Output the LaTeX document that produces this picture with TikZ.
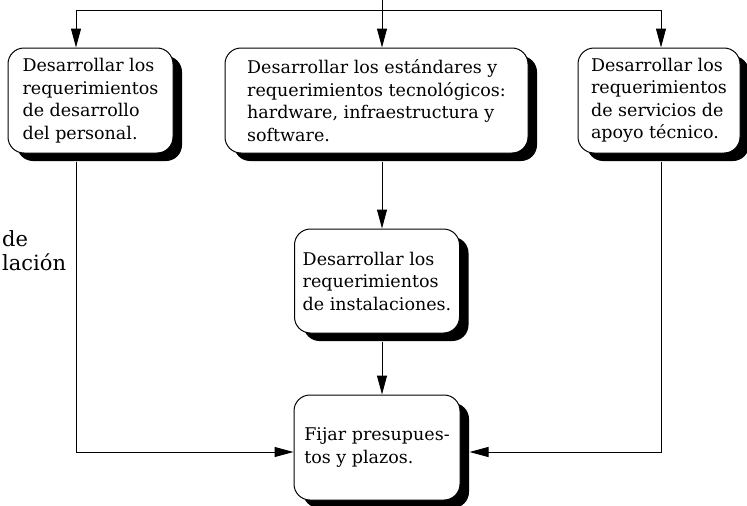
\documentclass[tikz,border=0pt]{standalone}
\usepackage{fontspec}
\setmainfont{DejaVu Serif}
\usetikzlibrary{arrows.meta, shadows}

\tikzset{
  paso/.style={draw, line width=1pt, fill=white, rounded corners=16pt,
    align=left, inner sep=0pt, minimum height=105pt,
    font=\fontsize{17.5}{22.5}\selectfont,
    drop shadow={shadow xshift=9pt, shadow yshift=-8pt, fill=black, opacity=1}},
  corte/.style={inner sep=0pt, anchor=base west, font=\fontsize{21}{24}\selectfont},
  flecha/.style={line width=1pt, -{Triangle[length=19pt,width=10pt]}},
  linea/.style={line width=1pt}
}

\begin{document}
\begin{tikzpicture}[x=1pt, y=-1pt]
\useasboundingbox (0,0) rectangle (747,506);

% Text at the left edge
\node[corte] (txtde) at (2,246) {de};
\node[corte] (txtlacion) at (2,270) {lación};

% Steps
\node[paso, minimum width=165pt] (personal) at (90.5,100.5)
  {Desarrollar los\\requerimientos\\de desarrollo\\del personal.};
\node[paso, minimum width=303pt] (estandares) at (376.5,100.5)
  {Desarrollar los estándares y\\requerimientos tecnológicos:\\hardware, infraestructura y\\software.};
\node[paso, minimum width=162pt] (servicios) at (659,100.5)
  {Desarrollar los\\requerimientos\\de servicios de\\apoyo técnico.};
\node[paso, minimum width=165pt, minimum height=104pt] (instalaciones) at (377,281)
  {Desarrollar los\\requerimientos\\de instalaciones.};
\node[paso, minimum width=166pt] (presupuestos) at (377,447.5)
  {Fijar presupues-\\tos y plazos.};

% Bend points
\coordinate (arriba) at (382,0);
\coordinate (barraI) at (76,10);
\coordinate (barraD) at (661,10);
\coordinate (bajoI) at (76,452);
\coordinate (bajoD) at (661,452);

% Connectors
\draw[linea] (arriba) -- (arriba |- barraI);
\draw[linea] (barraI) -- (barraD);
\draw[flecha] (barraI) -- (barraI |- personal.north);
\draw[flecha] (arriba |- barraI) -- (arriba |- estandares.north);
\draw[flecha] (barraD) -- (barraD |- servicios.north);
\draw[flecha] ([yshift=-8pt]arriba |- estandares.south) -- (arriba |- instalaciones.north);
\draw[flecha] ([yshift=-8pt]arriba |- instalaciones.south) -- (arriba |- presupuestos.north);
\draw[flecha] ([yshift=-8pt]barraI |- personal.south) -- (bajoI) -- (bajoI -| presupuestos.west);
\draw[flecha] ([yshift=-8pt]barraD |- servicios.south) -- (bajoD) -- ([xshift=9pt]bajoD -| presupuestos.east);
\end{tikzpicture}
\end{document}
